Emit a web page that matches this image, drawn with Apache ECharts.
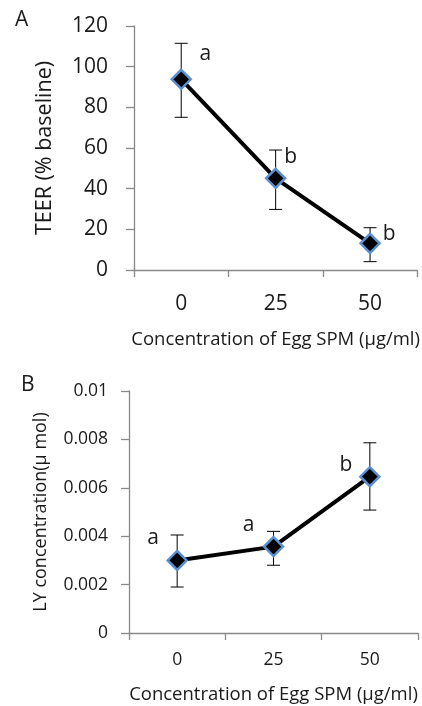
<!DOCTYPE html>
<html>
<head>
<meta charset="utf-8">
<script src="https://cdn.jsdelivr.net/npm/echarts@6/dist/echarts.min.js"></script>
<style>
html, body { margin: 0; padding: 0; background: #fff; }
#chart { width: 422px; height: 706px; }
</style>
</head>
<body>
<div id="chart"></div>
<script>
// doses of egg SPM (x categories)
var doses = ['0', '25', '50'];

// panel A: TEER (% baseline)
var teerMean = [93.8, 45.1, 13.1];
var teerLow = [75.1, 29.8, 4.1];
var teerHigh = [111.5, 59.0, 20.8];
var teerLetters = ['a', 'b', 'b'];

// panel B: LY concentration (µ mol)
var lyMean = [0.0030, 0.00357, 0.00646];
var lyLow = [0.0019, 0.0028, 0.00508];
var lyHigh = [0.00405, 0.0042, 0.00786];
var lyLetters = ['a', 'a', 'b'];

var FONT = 'Open Sans';
var AXIS_GRAY = '#898989';
var TEXT = '#1a1a1a';

function errorBars(params, api) {
  var i = api.value(0);
  var hi = api.coord([i, api.value(2)]);
  var lo = api.coord([i, api.value(1)]);
  var w = 6.5;
  var st = { stroke: '#000', lineWidth: 1 };
  return {
    type: 'group',
    children: [
      { type: 'line', shape: { x1: hi[0], y1: hi[1], x2: lo[0], y2: lo[1] }, style: st },
      { type: 'line', shape: { x1: hi[0] - w, y1: hi[1], x2: hi[0] + w, y2: hi[1] }, style: st },
      { type: 'line', shape: { x1: lo[0] - w, y1: lo[1], x2: lo[0] + w, y2: lo[1] }, style: st }
    ]
  };
}

function barData(low, high) {
  return low.map(function (v, i) { return [i, v, high[i]]; });
}

function pointData(mean, letters, offsets, size) {
  return mean.map(function (v, i) {
    return {
      value: v,
      label: {
        show: true,
        formatter: letters[i],
        position: 'inside',
        offset: offsets[i],
        color: TEXT,
        fontFamily: FONT,
        fontSize: size
      }
    };
  });
}

function lineSeries(idx, data) {
  return {
    type: 'line',
    xAxisIndex: idx,
    yAxisIndex: idx,
    data: data,
    z: 3,
    symbol: 'diamond',
    symbolSize: 19,
    lineStyle: { color: '#000', width: 4 },
    itemStyle: { color: '#000', borderColor: '#5b8fd0', borderWidth: 2.5 },
    emphasis: { disabled: true },
    animation: false
  };
}

function xAxis(idx, fontSize, margin, nameGap) {
  return {
    type: 'category',
    gridIndex: idx,
    data: doses,
    boundaryGap: true,
    name: 'Concentration of Egg SPM (µg/ml)',
    nameLocation: 'middle',
    nameGap: nameGap,
    nameTextStyle: { color: TEXT, fontFamily: FONT, fontSize: 18.5 },
    axisLine: { lineStyle: { color: AXIS_GRAY, width: 1.3 } },
    axisTick: { show: true, length: 7, lineStyle: { color: AXIS_GRAY, width: 1.3 } },
    axisLabel: { color: TEXT, fontFamily: FONT, fontSize: fontSize, margin: margin },
    splitLine: { show: false }
  };
}

var chart = echarts.init(document.getElementById('chart'));

chart.setOption({
  backgroundColor: '#fff',
  animation: false,
  title: [
    { text: 'A', left: 10, top: 5, textStyle: { fontFamily: FONT, fontWeight: 'normal', fontSize: 21, color: TEXT } },
    { text: 'B', left: 16, top: 370, textStyle: { fontFamily: FONT, fontWeight: 'normal', fontSize: 21, color: TEXT } }
  ],
  grid: [
    { left: 134, top: 26, width: 285, height: 244 },
    { left: 129, top: 391, width: 289, height: 242 }
  ],
  xAxis: [
    xAxis(0, 21, 24, 60),
    xAxis(1, 17.5, 18, 52)
  ],
  yAxis: [
    {
      type: 'value',
      gridIndex: 0,
      min: 0, max: 120, interval: 20,
      name: 'TEER (% baseline)',
      nameLocation: 'middle',
      nameGap: 78,
      nameTextStyle: { color: TEXT, fontFamily: FONT, fontSize: 21.5 },
      axisLine: { show: true, lineStyle: { color: AXIS_GRAY, width: 1.3 } },
      axisTick: { show: true, length: 8, lineStyle: { color: AXIS_GRAY, width: 1.3 } },
      axisLabel: { color: TEXT, fontFamily: FONT, fontSize: 21, margin: 26 },
      splitLine: { show: false }
    },
    {
      type: 'value',
      gridIndex: 1,
      min: 0, max: 0.01, interval: 0.002,
      name: 'LY concentration(µ mol)',
      nameLocation: 'middle',
      nameGap: 79,
      nameTextStyle: { color: TEXT, fontFamily: FONT, fontSize: 18 },
      axisLine: { show: true, lineStyle: { color: AXIS_GRAY, width: 1.3 } },
      axisTick: { show: true, length: 8, lineStyle: { color: AXIS_GRAY, width: 1.3 } },
      axisLabel: { color: TEXT, fontFamily: FONT, fontSize: 17.5, margin: 21 },
      splitLine: { show: false }
    }
  ],
  series: [
    {
      type: 'custom', xAxisIndex: 0, yAxisIndex: 0, z: 2,
      renderItem: errorBars, data: barData(teerLow, teerHigh), silent: true
    },
    lineSeries(0, pointData(teerMean, teerLetters, [[24, -25], [15, -21], [19, -9]], 21)),
    {
      type: 'custom', xAxisIndex: 1, yAxisIndex: 1, z: 2,
      renderItem: errorBars, data: barData(lyLow, lyHigh), silent: true
    },
    lineSeries(1, pointData(lyMean, lyLetters, [[-24, -22], [-25, -22], [-24, -12]], 21))
  ]
});
</script>
</body>
</html>
